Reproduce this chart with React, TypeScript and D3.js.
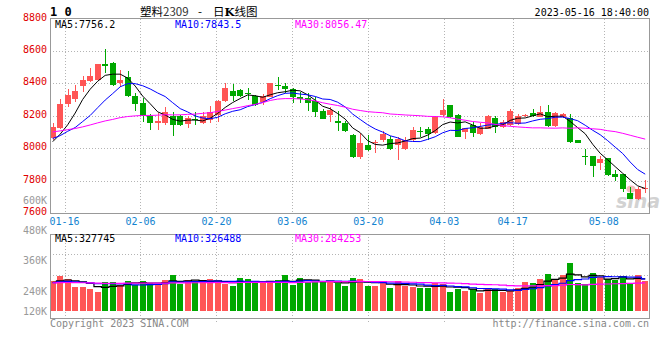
import React from "react";
import * as d3 from "d3";

// trading days shown on the chart
const dates = [
  "01-16", "01-17", "01-18", "01-19", "01-20", "01-30", "01-31",
  "02-01", "02-02", "02-03", "02-06", "02-07", "02-08", "02-09", "02-10",
  "02-13", "02-14", "02-15", "02-16", "02-17", "02-20", "02-21", "02-22",
  "02-23", "02-24", "02-27", "02-28",
  "03-01", "03-02", "03-03", "03-06", "03-07", "03-08", "03-09", "03-10",
  "03-13", "03-14", "03-15", "03-16", "03-17", "03-20", "03-21", "03-22",
  "03-23", "03-24", "03-27", "03-28", "03-29", "03-30", "03-31",
  "04-03", "04-04", "04-06", "04-07", "04-10", "04-11", "04-12", "04-13",
  "04-14", "04-17", "04-18", "04-19", "04-20", "04-21", "04-24", "04-25",
  "04-26", "04-27", "04-28",
  "05-04", "05-05", "05-08", "05-09", "05-10", "05-11", "05-12", "05-15",
  "05-16", "05-17", "05-18",
];

const opens = [
  8062, 8124, 8273, 8304, 8386, 8414, 8420, 8519, 8525, 8400,
  8439, 8324, 8281, 8199, 8158, 8158, 8199, 8199, 8148, 8179,
  8154, 8174, 8205, 8293, 8353, 8359, 8340, 8322, 8287, 8318,
  8392, 8386, 8363, 8318, 8307, 8293, 8229, 8205, 8168, 8153,
  8081, 7943, 8019, 8030, 8050, 8054, 8019, 7993, 8050, 8108,
  8118, 8091, 8205, 8266, 8205, 8098, 8143, 8087, 8116, 8184,
  8133, 8143, 8149, 8198, 8215, 8194, 8225, 8139, 8190, 8184,
  8050, 7953, 7951, 7906, 7937, 7840, 7840, 7721, 7684, 7746,
];
const highs = [
  8157, 8304, 8362, 8390, 8447, 8496, 8522, 8611, 8529, 8482,
  8476, 8342, 8308, 8209, 8215, 8252, 8226, 8205, 8199, 8225,
  8221, 8260, 8297, 8400, 8396, 8363, 8369, 8328, 8332, 8402,
  8441, 8404, 8369, 8349, 8338, 8318, 8240, 8256, 8231, 8168,
  8085, 8091, 8081, 8050, 8105, 8075, 8071, 8071, 8133, 8133,
  8133, 8198, 8303, 8266, 8211, 8125, 8163, 8154, 8205, 8198,
  8175, 8241, 8211, 8213, 8240, 8260, 8268, 8225, 8215, 8211,
  8052, 7993, 7951, 7951, 7941, 7865, 7840, 7760, 7760, 7803,
];
const lows = [
  8050, 8120, 8256, 8287, 8349, 8406, 8420, 8461, 8386, 8375,
  8318, 8230, 8164, 8113, 8109, 8144, 8076, 8135, 8123, 8140,
  8150, 8155, 8163, 8287, 8293, 8318, 8297, 8262, 8266, 8316,
  8359, 8338, 8277, 8277, 8231, 8190, 8178, 8163, 8108, 8102,
  7941, 7933, 7984, 7972, 8040, 7989, 7927, 7989, 8040, 8067,
  8050, 8087, 8194, 8184, 8067, 8054, 8071, 8081, 8116, 8096,
  8122, 8137, 8143, 8190, 8190, 8190, 8133, 8133, 8184, 8030,
  8030, 7896, 7824, 7865, 7830, 7800, 7730, 7684, 7680, 7721,
];
const closes = [
  8130, 8273, 8328, 8353, 8420, 8445, 8519, 8509, 8390, 8420,
  8324, 8273, 8199, 8154, 8170, 8226, 8140, 8144, 8185, 8172,
  8199, 8225, 8291, 8369, 8324, 8322, 8336, 8266, 8322, 8400,
  8386, 8367, 8314, 8301, 8277, 8221, 8180, 8236, 8153, 8108,
  7947, 8034, 7989, 8038, 8085, 7995, 8054, 8050, 8112, 8100,
  8087, 8194, 8235, 8190, 8071, 8122, 8096, 8133, 8198, 8133,
  8163, 8229, 8200, 8207, 8198, 8225, 8139, 8215, 8209, 8036,
  8034, 7951, 7890, 7931, 7834, 7824, 7746, 7688, 7746, 7752,
];
// closes of the 29 sessions before the first visible day (feed the moving averages)
const closesBefore = [
  8080, 8100, 8140, 8120, 8090, 8130, 8150, 8110, 8090, 8120,
  8150, 8120, 8160, 8110, 8140, 8180, 8130, 8100, 8125, 8060,
  8100, 8060, 8120, 8050, 8070, 8040, 8040, 7990, 8000,
];

// volume, thousands of lots
const volumeK = [
  305, 359, 326, 247, 247, 223, 197, 291, 298, 265,
  306, 265, 306, 282, 265, 315, 366, 275, 315, 298,
  291, 326, 305, 271, 254, 339, 322, 282, 282, 282,
  315, 366, 265, 339, 298, 298, 298, 291, 282, 258,
  339, 326, 258, 258, 282, 237, 305, 258, 241, 230,
  230, 288, 275, 197, 221, 203, 221, 180, 221, 223,
  197, 203, 230, 298, 288, 326, 376, 315, 366, 491,
  288, 275, 390, 343, 326, 315, 359, 288, 366, 308,
];
const volumeKBefore = [
  270, 290, 300, 280, 265, 295, 310, 285, 275, 260,
  290, 300, 285, 270, 280, 295, 305, 280, 270, 285,
  290, 275, 280, 295, 285, 290, 280, 290, 295,
];

const priceTicks = [8800, 8600, 8400, 8200, 8000, 7800, 7600];
const xTickLabels = ["01-16", "02-06", "02-20", "03-06", "03-20", "04-03", "04-17", "05-08"];
const volumeTickLabels = ["480K", "360K", "240K", "120K"];
const priceLegend = ["MA5:7756.2", "MA10:7843.5", "MA30:8056.47"];
const volumeLegend = ["MA5:327745", "MA10:326488", "MA30:284253"];
const maPeriods = [5, 10, 30];
const maColors = ["#000000", "#0000ff", "#ff00ff"];

const UP = "#ff5555";
const DOWN = "#00a800";
const GRID = "#b4b4b4";
const FRAME = "#999999";
const MONO = "'DejaVu Sans Mono', monospace";

const movingAvg = (before: number[], values: number[], n: number) => {
  const all = [...before, ...values];
  const off = before.length;
  return values.map((_, i) => d3.mean(all.slice(off + i - n + 1, off + i + 1)) as number);
};

const App = () => {
  const left = 50, right = 649;
  const top = 18.5, bottom = 213;
  const vTop = 234, vBottom = 318, vBase = 311;

  const x = d3.scaleBand<string>().domain(dates).range([48.95, 648.95]);
  const cx = (i: number) => (x(dates[i]) ?? 0) + x.bandwidth() / 2;
  const y = d3.scaleLinear().domain([7600, 8800]).range([bottom, top]);
  const yv = d3.scaleLinear().domain([0, 783]).range([vBase, vTop]);
  const labelX = d3.scaleLinear().domain([0, dates.length - 1]).range([49.5, 649.5]);

  const tickIdx = xTickLabels.map((l) => dates.indexOf(l));
  const gridXs = tickIdx.map((i) => Math.round(labelX(i) + 15) + 0.5);

  const priceMAs = maPeriods.map((n) => movingAvg(closesBefore, closes, n));
  const volMAs = maPeriods.map((n) => movingAvg(volumeKBefore, volumeK, n));

  const priceLine = d3.line<number>().x((_, i) => cx(i)).y((d) => y(d));
  const volLine = d3
    .line<number>()
    .x((_, i) => cx(i))
    .y((d) => yv(d))
    .curve(d3.curveStep);

  const gridPrices = priceTicks.filter((p) => p !== 8800 && p !== 7600);
  const volGridYs = [254.5, 275.5];

  return (
    <div style={{ position: "absolute", left: 0, top: 0 }}>
      <svg width={660} height={360} style={{ display: "block", background: "#fff" }}>
        {/* header */}
        <text x={50} y={16} fontFamily={MONO} fontWeight="bold" fontSize={12} fill="#000">
          1 0
        </text>
        <text x={140} y={16} fontFamily="'Noto Sans CJK SC', sans-serif" fontSize={11.5} fill="#000">
          塑料<tspan fill="#333">2309</tspan>
        </text>
        <text x={198} y={16} fontFamily="'Noto Sans CJK SC', sans-serif" fontSize={11.5} fill="#000">
          -
        </text>
        <text x={213} y={16} fontFamily="'Noto Sans CJK SC', sans-serif" fontSize={11.5} fill="#000">
          日<tspan fontWeight="bold" fontFamily="'DejaVu Serif', serif">K</tspan>线图
        </text>
        <text x={649} y={16} textAnchor="end" fontFamily={MONO} fontSize={10} fill="#000">
          2023-05-16 18:40:00
        </text>

        {/* grid */}
        <g stroke={GRID} strokeDasharray="1,2" shapeRendering="crispEdges">
          {gridPrices.map((p) => (
            <line key={p} x1={left} x2={right} y1={Math.round(y(p)) + 0.5} y2={Math.round(y(p)) + 0.5} />
          ))}
          {gridXs.map((gx, k) => (
            <g key={k}>
              <line x1={gx} x2={gx} y1={top} y2={bottom} />
              <line x1={gx} x2={gx} y1={vTop} y2={vBottom} />
              <line x1={gx} x2={gx} y1={vBottom} y2={vBottom + 4} />
            </g>
          ))}
          {volGridYs.map((gy) => (
            <line key={gy} x1={left} x2={right} y1={gy} y2={gy} />
          ))}
        </g>

        {/* price axis labels */}
        {priceTicks.map((p) => (
          <text key={p} x={47} y={y(p) + 2} textAnchor="end" fontFamily={MONO} fontSize={10} fill="#e00000">
            {p}
          </text>
        ))}
        <text x={47} y={204} textAnchor="end" fontFamily={MONO} fontSize={10} fill="#999">
          600K
        </text>

        {/* watermark */}
        <text x={616} y={208} fontFamily="'DejaVu Sans', sans-serif" fontStyle="italic" fontWeight="bold" fontSize={19} fill="#d2d2d2">
          sina
        </text>
        <ellipse cx={631} cy={189} rx={4.5} ry={3.5} fill="#f4bcbc" />

        {/* candles */}
        <g shapeRendering="crispEdges">
          {dates.map((d, i) => {
            const o = opens[i], c = closes[i];
            const col = c >= o ? UP : DOWN;
            const bx = Math.round(cx(i) - 3);
            const yTop = Math.round(y(Math.max(o, c)));
            const yBot = Math.round(y(Math.min(o, c)));
            return (
              <g key={d}>
                <line x1={bx + 3} x2={bx + 3} y1={y(highs[i])} y2={y(lows[i])} stroke={col} />
                <rect x={bx} y={yTop} width={6} height={Math.max(1, yBot - yTop)} fill={col} />
              </g>
            );
          })}
        </g>

        {/* price moving averages */}
        {priceMAs.map((ma, k) => (
          <path key={k} d={priceLine(ma) ?? ""} fill="none" stroke={maColors[k]} strokeWidth={1} />
        ))}

        {/* price frame */}
        <rect x={left + 0.5} y={top} width={right - left} height={bottom - top + 0.5} fill="none" stroke={FRAME} shapeRendering="crispEdges" />

        {/* legend */}
        {priceLegend.map((t, k) => (
          <text key={t} x={55 + k * 120} y={27.5} fontFamily={MONO} fontSize={10} fill={maColors[k]}>
            {t}
          </text>
        ))}

        {/* x labels */}
        {xTickLabels.map((l, k) => (
          <text key={l} x={labelX(tickIdx[k])} y={224.5} fontFamily={MONO} fontSize={10} fill="#1283d0">
            {l}
          </text>
        ))}

        {/* volume */}
        <g shapeRendering="crispEdges">
          {dates.map((d, i) => {
            const bx = Math.round(cx(i) - 3);
            const yt = Math.round(yv(volumeK[i]));
            return (
              <rect
                key={d}
                x={bx}
                y={yt}
                width={6}
                height={vBase - yt}
                fill={closes[i] >= opens[i] ? UP : DOWN}
              />
            );
          })}
        </g>
        {volMAs.map((ma, k) => (
          <path key={k} d={volLine(ma) ?? ""} fill="none" stroke={maColors[k]} strokeWidth={1.2} />
        ))}
        <rect x={left + 0.5} y={vTop + 0.5} width={right - left} height={vBottom - vTop} fill="none" stroke={FRAME} shapeRendering="crispEdges" />

        {volumeTickLabels.map((t, k) => (
          <text key={t} x={47} y={[234, 264, 295, 314.5][k]} textAnchor="end" fontFamily={MONO} fontSize={10} fill="#999">
            {t}
          </text>
        ))}
        {volumeLegend.map((t, k) => (
          <text key={t} x={55 + k * 120} y={242} fontFamily={MONO} fontSize={10} fill={maColors[k]}>
            {t}
          </text>
        ))}

        {/* footer */}
        <text x={50} y={326.5} fontFamily={MONO} fontSize={10} fill="#888">
          Copyright 2023 SINA.COM
        </text>
        <text x={649} y={326.5} textAnchor="end" fontFamily={MONO} fontSize={10} fill="#888">
          http://finance.sina.com.cn
        </text>
      </svg>
    </div>
  );
};

export default App;
